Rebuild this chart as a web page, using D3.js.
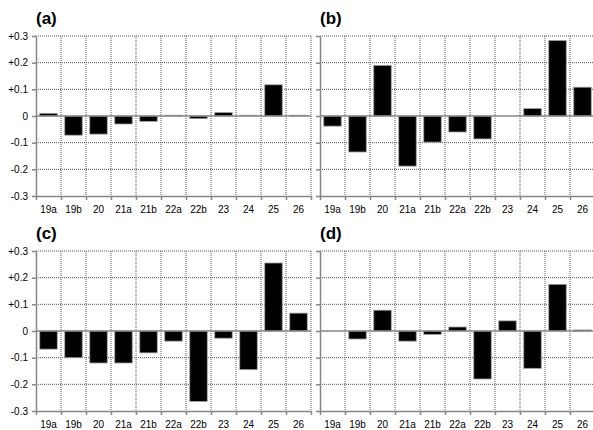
<!DOCTYPE html>
<html>
<head>
<meta charset="utf-8">
<script src="https://cdn.jsdelivr.net/npm/d3@7"></script>
<style>
  body { margin: 0; background: #fff; }
  text { font-family: "Liberation Sans", Arial, sans-serif; }
</style>
</head>
<body>
<div id="chart"></div>
<script>
const categories = ["19a", "19b", "20", "21a", "21b", "22a", "22b", "23", "24", "25", "26"];
const yTicks = [-0.3, -0.2, -0.1, 0, 0.1, 0.2, 0.3];

const valuesA = [0.01, -0.072, -0.068, -0.03, -0.02, 0.003, -0.01, 0.013, 0.003, 0.117, 0.003];
const valuesB = [-0.038, -0.135, 0.19, -0.188, -0.098, -0.06, -0.086, 0, 0.028, 0.283, 0.108];
const valuesC = [-0.068, -0.1, -0.12, -0.12, -0.082, -0.038, -0.264, -0.027, -0.145, 0.255, 0.067];
const valuesD = [0, -0.03, 0.078, -0.038, -0.013, 0.015, -0.18, 0.038, -0.14, 0.175, 0.004];

const panels = [
    { label: "(a)", values: valuesA, left: 36, top: 36, yLabels: true },
    { label: "(b)", values: valuesB, left: 320, top: 36, yLabels: false },
    { label: "(c)", values: valuesC, left: 36, top: 251, yLabels: true },
    { label: "(d)", values: valuesD, left: 320, top: 251, yLabels: false }
];

const width = 275;
const height = 160;
const axisColor = "#858585";
const gridColor = "#555";

const svg = d3.select("#chart").append("svg")
    .attr("width", 593)
    .attr("height", 430);

function fmt(v) {
    if (Math.abs(v) < 1e-9) return "0";
    return (v > 0 ? "+" : "-") + Math.abs(v).toFixed(1);
}

panels.forEach(p => {
    const g = svg.append("g")
        .attr("transform", `translate(${p.left}, ${p.top})`);

    const x = d3.scaleBand()
        .domain(categories)
        .range([0, width])
        .paddingInner(0.3)
        .paddingOuter(0.15);

    // boundaries between categories
    const xb = d3.scaleLinear().domain([0, categories.length]).range([0, width]);
    const bounds = d3.range(0, categories.length + 1);

    const y = d3.scaleLinear().domain([-0.3, 0.3]).range([height, 0]);

    // dotted grid
    g.selectAll(".hgrid")
        .data(yTicks.filter(t => t !== 0 && t !== -0.3))
        .enter()
        .append("line")
        .attr("x1", 0)
        .attr("x2", width)
        .attr("y1", d => y(d))
        .attr("y2", d => y(d))
        .attr("stroke", gridColor)
        .attr("stroke-width", 1)
        .attr("stroke-dasharray", "1,1");

    g.selectAll(".vgrid")
        .data(bounds.slice(1))
        .enter()
        .append("line")
        .attr("x1", d => xb(d))
        .attr("x2", d => xb(d))
        .attr("y1", 0)
        .attr("y2", height)
        .attr("stroke", gridColor)
        .attr("stroke-width", 1)
        .attr("stroke-dasharray", "1,1");

    // bars
    g.selectAll(".bar")
        .data(p.values)
        .enter()
        .append("rect")
        .attr("x", (d, i) => x(categories[i]))
        .attr("width", x.bandwidth())
        .attr("y", d => y(Math.max(0, d)))
        .attr("height", d => Math.abs(y(d) - y(0)))
        .attr("fill", "#000")
        .attr("stroke", "#a0a0a0")
        .attr("stroke-width", 0.8);

    // zero line
    g.append("line")
        .attr("x1", 0)
        .attr("x2", width)
        .attr("y1", y(0))
        .attr("y2", y(0))
        .attr("stroke", axisColor)
        .attr("stroke-width", 1.5);

    // left axis
    const yAxis = g.append("g")
        .call(d3.axisLeft(y)
            .tickValues(yTicks)
            .tickSize(4)
            .tickSizeOuter(0)
            .tickPadding(4)
            .tickFormat(p.yLabels ? fmt : ""));
    yAxis.selectAll("path, line").attr("stroke", axisColor).attr("stroke-width", 1.5);
    yAxis.selectAll("text").style("font-size", "10px").attr("fill", "#000");

    // bottom axis ticks at category boundaries
    const xTicks = g.append("g")
        .attr("transform", `translate(0, ${height})`)
        .call(d3.axisBottom(xb)
            .tickValues(bounds)
            .tickSize(4)
            .tickSizeOuter(0)
            .tickFormat(""));
    xTicks.selectAll("path, line").attr("stroke", axisColor).attr("stroke-width", 1.5);

    // category labels
    const xLabels = g.append("g")
        .attr("transform", `translate(0, ${height})`)
        .call(d3.axisBottom(x).tickSize(0).tickPadding(10));
    xLabels.select(".domain").remove();
    xLabels.selectAll("text").style("font-size", "10px").attr("fill", "#000");

    // panel label
    g.append("text")
        .attr("x", 0)
        .attr("y", -12)
        .style("font-size", "17px")
        .style("font-weight", "bold")
        .text(p.label);
});
</script>
</body>
</html>
